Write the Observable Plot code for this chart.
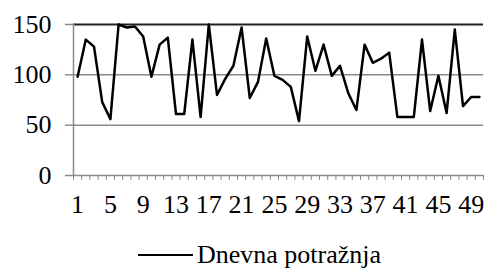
<!DOCTYPE html>
<html><head><meta charset="utf-8">
<script src="https://cdn.jsdelivr.net/npm/d3@7"></script>
<script src="https://cdn.jsdelivr.net/npm/@observablehq/plot@0.6"></script>
<style>
body{margin:0;background:#fff;position:relative;width:484px;height:270px;overflow:hidden;}
#legend{position:absolute;left:138px;top:240px;height:30px;display:flex;align-items:center;font-family:"Times New Roman","Liberation Serif",Tinos,"DejaVu Serif",serif;font-size:26px;line-height:30px;color:#000;white-space:nowrap;}
#legend .sw{display:inline-block;width:55px;border-top:2.5px solid #000;margin-right:4px;}
</style></head><body>
<div id="chart"></div>
<div id="legend"><span class="sw"></span><span id="lname"></span></div>
<script>
const days = d3.range(1, 51);
const demand = [98,135,128,73,56,150,147,148,138,98,130,137,61,61,135,58,150,80,96,109,147,77,93,136,99,95,88,54,138,104,130,99,109,82,65,130,112,116,122,58,58,58,135,64,99,62,145,69,78,78];
const yTicks = [0,50,100,150];
const xLabels = [1,5,9,13,17,21,25,29,33,37,41,45,49];
const seriesName = "Dnevna potražnja";
const data = days.map((d,i)=>({day:d, value:demand[i]}));
const boundaries = d3.range(0.5, 51, 1);
document.getElementById("lname").textContent = seriesName;

const grid = "#8a8a8a";
const chart = Plot.plot({
  width: 484, height: 240,
  marginLeft: 73, marginRight: 1, marginTop: 24, marginBottom: 65,
  style: {fontFamily: '"Times New Roman","Liberation Serif",Tinos,"DejaVu Serif",serif', fontSize: "26px", color: "#000", background: "#fff", overflow: "visible"},
  x: {domain: [0.5, 50.5]},
  y: {domain: [0, 150]},
  marks: [
    Plot.ruleY(yTicks.filter(v=>v>0 && v<150), {stroke: grid, strokeWidth: 1.5}),
    Plot.ruleY([150], {stroke: "#222", strokeWidth: 2}),
    Plot.ruleY([0], {stroke: grid, strokeWidth: 1.5}),
    Plot.ruleX([0.5], {stroke: grid, strokeWidth: 1.5}),
    Plot.axisX({ticks: boundaries, tickSize: 5, tickFormat: () => "", stroke: grid, strokeWidth: 1, label: null}),
    Plot.axisY({ticks: yTicks, tickSize: 8, tickPadding: 14, stroke: grid, strokeWidth: 1.5, label: null, fill: "#000"}),
    Plot.axisX({ticks: xLabels, tickSize: 0, tickPadding: 19, label: null, fill: "#000", tickFormat: d=>String(d)}),
    Plot.line(data, {x: "day", y: "value", stroke: "#000", strokeWidth: 2.5})
  ]
});
document.getElementById("chart").appendChild(chart);
</script>
</body></html>
